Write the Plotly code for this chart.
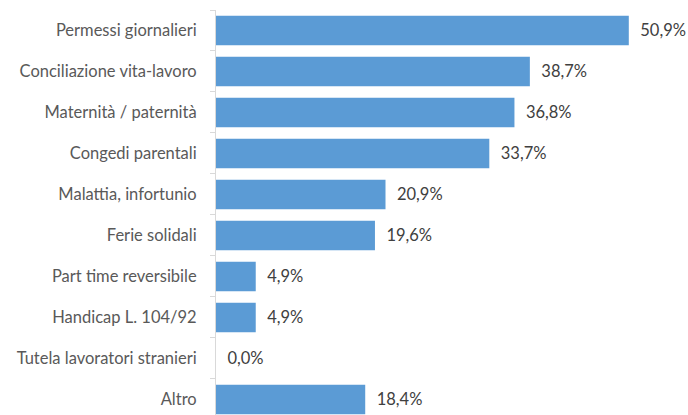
import plotly.graph_objects as go

categories = ["Permessi giornalieri", "Conciliazione vita-lavoro", "Maternità / paternità",
              "Congedi parentali", "Malattia, infortunio", "Ferie solidali",
              "Part time reversibile", "Handicap L. 104/92", "Tutela lavoratori stranieri", "Altro"]
values = [50.9, 38.7, 36.8, 33.7, 20.9, 19.6, 4.9, 4.9, 0.0, 18.4]
labels = [("%.1f%%" % v).replace(".", ",") for v in values]

fig = go.Figure(go.Bar(
    x=values, y=categories, orientation="h",
    marker=dict(color="#5B9BD5", line=dict(width=0)),
    text=["  " + t for t in labels], textposition="outside", cliponaxis=False,
    textfont=dict(family="Lato", size=16.5, color="#404040"),
    width=0.72,
))
fig.update_layout(
    width=688, height=415, margin=dict(l=216, r=0, t=10, b=0),
    paper_bgcolor="white", plot_bgcolor="white", showlegend=False,
    font=dict(family="Lato", size=16.5, color="#595959"),
    xaxis=dict(range=[0, 58.2], visible=False),
    yaxis=dict(categoryorder="array", categoryarray=categories, range=[9.38, -0.5],
               showline=True, linecolor="#D9D9D9", linewidth=1,
               ticks="outside", tickson="boundaries", ticklen=5, tickcolor="#D9D9D9",
               ticklabelstandoff=15, showgrid=False),
)
fig.write_html("out.html")
